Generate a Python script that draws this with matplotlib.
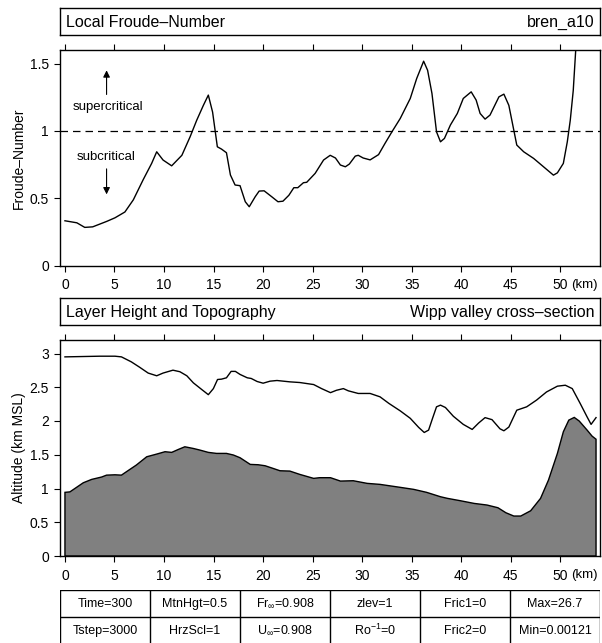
import matplotlib
matplotlib.use("Agg")
import matplotlib.pyplot as plt
import numpy as np

plt.rcParams["font.family"] = ["Liberation Sans", "DejaVu Sans"]
plt.rcParams["mathtext.fontset"] = "custom"
plt.rcParams["mathtext.rm"] = "Liberation Sans"
plt.rcParams["mathtext.it"] = "Liberation Sans"

# ── data ──────────────────────────────────────────────────────────────────────

# local Froude number along the cross-section (km)
fr_x = [0.0, 1.2, 2.0, 2.8, 4.2, 5.05, 6.05, 6.9, 7.9, 8.75, 9.26, 9.9, 10.77,
        11.8, 12.63, 13.3, 13.97, 14.47, 14.9, 15.38, 15.8, 16.3, 16.7, 17.17,
        17.67, 18.2, 18.6, 19.2, 19.6, 20.1, 20.87, 21.5, 22.0, 22.6, 23.1,
        23.5, 24.07, 24.4, 25.25, 26.1, 26.77, 27.3, 27.8, 28.3, 28.7, 29.3,
        29.6, 30.1, 30.8, 31.65, 32.3, 33.0, 33.84, 34.85, 35.5, 36.2, 36.6,
        37.04, 37.5, 37.9, 38.3, 38.9, 39.6, 40.2, 41.0, 41.5, 41.9, 42.4,
        42.9, 43.8, 44.3, 44.8, 45.6, 46.3, 47.3, 48.3, 49.3, 49.7, 50.3,
        50.7, 51.0, 51.3, 51.55, 52.0, 52.5]
fr_y = [0.335, 0.32, 0.286, 0.29, 0.33, 0.357, 0.40, 0.49, 0.64, 0.76, 0.846,
        0.785, 0.742, 0.82, 0.957, 1.08, 1.19, 1.266, 1.14, 0.883, 0.866,
        0.839, 0.674, 0.60, 0.595, 0.476, 0.439, 0.513, 0.555, 0.557, 0.513,
        0.476, 0.48, 0.524, 0.58, 0.58, 0.617, 0.62, 0.686, 0.785, 0.82, 0.80,
        0.748, 0.735, 0.755, 0.814, 0.82, 0.80, 0.786, 0.825, 0.908, 0.994,
        1.093, 1.241, 1.389, 1.517, 1.45, 1.278, 0.994, 0.92, 0.945, 1.044,
        1.13, 1.241, 1.29, 1.229, 1.13, 1.088, 1.118, 1.253, 1.273, 1.19,
        0.896, 0.846, 0.797, 0.735, 0.673, 0.69, 0.76, 0.92, 1.08, 1.30, 1.6,
        2.3, 3.2]

# layer height (km MSL)
layer_x = [0.0, 3.5, 5.05, 5.7, 6.7, 7.5, 8.4, 9.26, 9.9, 10.9, 11.6, 12.3,
           12.96, 13.8, 14.47, 14.98, 15.4, 15.8, 16.3, 16.77, 17.2, 17.67,
           18.4, 18.8, 19.4, 20.0, 20.7, 21.4, 22.7, 23.7, 25.1, 25.9, 26.8,
           27.4, 28.1, 28.6, 29.6, 30.8, 31.8, 32.7, 33.84, 34.85, 35.7, 36.26,
           36.7, 37.1, 37.5, 37.9, 38.4, 39.2, 40.2, 41.1, 41.75, 42.4, 43.1,
           43.9, 44.3, 44.8, 45.6, 46.6, 47.6, 48.6, 49.7, 50.5, 51.2, 52.0,
           52.7, 53.1, 53.6]
layer_y = [2.95, 2.96, 2.96, 2.95, 2.876, 2.80, 2.71, 2.67, 2.71, 2.753, 2.73,
           2.67, 2.565, 2.467, 2.39, 2.48, 2.615, 2.62, 2.64, 2.735, 2.735,
           2.69, 2.64, 2.63, 2.585, 2.56, 2.59, 2.60, 2.58, 2.57, 2.54, 2.48,
           2.42, 2.455, 2.48, 2.447, 2.408, 2.408, 2.358, 2.26, 2.15, 2.04,
           1.905, 1.83, 1.865, 2.04, 2.21, 2.235, 2.2, 2.07, 1.95, 1.875, 1.97,
           2.05, 2.02, 1.885, 1.855, 1.91, 2.16, 2.21, 2.31, 2.43, 2.516, 2.53,
           2.48, 2.26, 2.06, 1.95, 2.05]

# topography (km MSL)
topo_x = [0.0, 0.5, 1.0, 1.85, 2.7, 3.7, 4.2, 5.05, 5.7, 6.2, 7.2, 8.25, 9.26,
          10.1, 10.77, 11.45, 12.1, 12.96, 13.6, 14.47, 15.3, 16.3, 17.0,
          17.67, 18.7, 19.5, 20.2, 21.0, 21.7, 22.7, 23.7, 25.1, 25.7, 26.8,
          27.8, 29.1, 30.5, 31.8, 33.84, 35.2, 36.5, 37.9, 38.6, 39.9, 41.3,
          42.6, 43.7, 44.5, 45.3, 46.0, 47.0, 48.0, 48.8, 49.7, 50.3, 50.85,
          51.4, 51.9, 52.7, 53.2, 53.6]
topo_y = [0.943, 0.95, 1.00, 1.085, 1.135, 1.17, 1.198, 1.203, 1.198, 1.248,
          1.347, 1.47, 1.51, 1.545, 1.535, 1.579, 1.618, 1.593, 1.57, 1.535,
          1.52, 1.52, 1.496, 1.456, 1.357, 1.352, 1.337, 1.298, 1.263, 1.258,
          1.209, 1.15, 1.16, 1.16, 1.11, 1.115, 1.076, 1.061, 1.017, 0.987,
          0.943, 0.878, 0.854, 0.819, 0.779, 0.755, 0.715, 0.641, 0.592, 0.592,
          0.67, 0.854, 1.125, 1.52, 1.84, 2.013, 2.053, 2.0, 1.865, 1.776, 1.73]

x_ticks = [0, 5, 10, 15, 20, 25, 30, 35, 40, 45, 50]
fr_ticks = [0, 0.5, 1, 1.5]
fr_ticklabels = ["0", "0.5", "1", "1.5"]
alt_ticks = [0, 0.5, 1, 1.5, 2, 2.5, 3]
alt_ticklabels = ["0", "0.5", "1", "1.5", "2", "2.5", "3"]

table_rows = [
    ["Time=300", "MtnHgt=0.5", r"Fr$_{\infty}$=0.908", "zlev=1", "Fric1=0", "Max=26.7"],
    ["Tstep=3000", "HrzScl=1", r"U$_{\infty}$=0.908", r"Ro$^{-1}$=0", "Fric2=0", "Min=0.00121"],
]

# ── layout (pixel boxes) ──────────────────────────────────────────────────────

W, H = 602, 643
fig = plt.figure(figsize=(W / 100, H / 100), dpi=100)


def box(top, bottom, left=60, right=600):
    return [left / W, 1 - bottom / H, (right - left) / W, (bottom - top) / H]


def title_box(rect, left_text, right_text):
    tb = fig.add_axes(rect)
    tb.set_xticks([])
    tb.set_yticks([])
    for s in tb.spines.values():
        s.set_linewidth(1.0)
    tb.text(0.012, 0.45, left_text, transform=tb.transAxes, ha="left",
            va="center", fontsize=11.5)
    tb.text(0.99, 0.45, right_text, transform=tb.transAxes, ha="right",
            va="center", fontsize=11.5)


def style_axes(ax, yticks, yticklabels, ylabel):
    ax.set_xlim(-0.5, 54.0)
    ax.set_xticks(x_ticks)
    ax.set_yticks(yticks)
    ax.set_yticklabels(yticklabels)
    ax.tick_params(direction="out", length=4, width=0.8, labelsize=10,
                   pad=4, top=True)
    ax.tick_params(axis="x", pad=5)
    for s in ax.spines.values():
        s.set_linewidth(1.0)
    ax.set_ylabel(ylabel, fontsize=10)
    ax.yaxis.set_label_coords(-0.063, 0.5)
    ax.annotate("(km)", xy=(52.4, 0), xycoords=("data", "axes fraction"),
                xytext=(0, -13.5), textcoords="offset points",
                ha="center", va="center", fontsize=9.5)


# ── top panel: Froude number ──────────────────────────────────────────────────

title_box(box(8, 35), "Local Froude\u2013Number", "bren_a10")
ax1 = fig.add_axes(box(50, 266))
ax1.plot(fr_x, fr_y, color="black", lw=1.0)
ax1.axhline(1, color="black", lw=0.9, ls=(0, (6, 4)))
ax1.set_ylim(0, 1.6)
style_axes(ax1, fr_ticks, fr_ticklabels, "Froude\u2013Number")

ax1.annotate("", xy=(4.2, 1.47), xytext=(4.2, 1.25),
             arrowprops=dict(arrowstyle="-|>", color="black", lw=0.8,
                             mutation_scale=10))
ax1.text(4.3, 1.18, "supercritical", ha="center", va="center", fontsize=9.5)
ax1.text(4.2, 0.81, "subcritical", ha="center", va="center", fontsize=9.5)
ax1.annotate("", xy=(4.2, 0.51), xytext=(4.2, 0.74),
             arrowprops=dict(arrowstyle="-|>", color="black", lw=0.8,
                             mutation_scale=10))

# ── bottom panel: layer height and topography ────────────────────────────────

title_box(box(298, 325), "Layer Height and Topography", "Wipp valley cross\u2013section")
ax2 = fig.add_axes(box(340, 556))
tx = np.concatenate([[topo_x[0]], topo_x, [topo_x[-1]]])
ty = np.concatenate([[0], topo_y, [0]])
ax2.fill(tx, ty, facecolor="#808080", edgecolor="black", lw=1.0)
ax2.plot(layer_x, layer_y, color="black", lw=1.0)
ax2.set_ylim(0, 3.2)
style_axes(ax2, alt_ticks, alt_ticklabels, "Altitude (km MSL)")

# ── parameter table ───────────────────────────────────────────────────────────

ax3 = fig.add_axes(box(590, 644))
ax3.set_xlim(0, 6)
ax3.set_ylim(0, 2)
ax3.axis("off")
ncol = len(table_rows[0])
for i in range(ncol + 1):
    ax3.axvline(i, color="black", lw=1.0)
ax3.axhline(2, color="black", lw=1.0)
ax3.axhline(1, color="black", lw=1.0)
for r, row in enumerate(table_rows):
    for c, txt in enumerate(row):
        ax3.text(c + 0.5, 1.5 - r, txt, ha="center", va="center", fontsize=9)

fig.savefig("out.png", dpi=100)
